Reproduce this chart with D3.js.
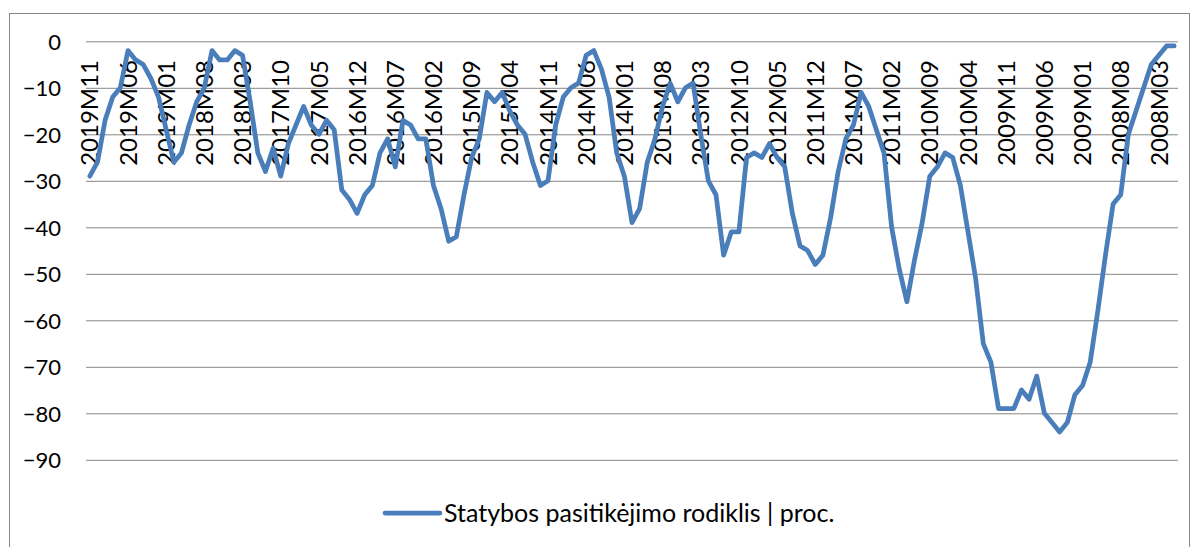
<!DOCTYPE html>
<html>
<head>
<meta charset="utf-8">
<script src="https://cdn.jsdelivr.net/npm/d3@7"></script>
<style>
  body { margin: 0; background: #fff; }
  svg text { font-family: "Lato", "Liberation Sans", sans-serif; fill: #000; }
</style>
</head>
<body>
<div id="chart"></div>
<script>
// months, newest first (2019M11 ... 2008M01)
const startYear = 2019, startMonth = 11, monthCount = 143;
const months = [];
for (let k = 0; k < monthCount; k++) {
  const t = startYear * 12 + (startMonth - 1) - k;
  const y = Math.floor(t / 12), m = t % 12 + 1;
  months.push(y + 'M' + (m < 10 ? '0' + m : m));
}

// Statybos pasitikėjimo rodiklis, proc. (same order as months)
const values = [
  -29, -26, -17, -12, -10, -2, -4, -5, -8, -12,
  -19, -26, -24, -18, -13, -10, -2, -4, -4, -2,
  -3, -13, -24, -28, -23, -29, -22, -18, -14, -18,
  -20, -17, -19, -32, -34, -37, -33, -31, -24, -21,
  -27, -17, -18, -21, -21, -31, -36, -43, -42, -33,
  -25, -21, -11, -13, -11, -15, -18, -20, -26, -31,
  -30, -18, -12, -10, -9, -3, -2, -6, -12, -24,
  -29, -39, -36, -26, -21, -14, -9, -13, -10, -9,
  -20, -30, -33, -46, -41, -41, -25, -24, -25, -22,
  -25, -27, -37, -44, -45, -48, -46, -38, -28, -21,
  -18, -11, -14, -19, -24, -40, -49, -56, -47, -39,
  -29, -27, -24, -25, -31, -41, -51, -65, -69, -79,
  -79, -79, -75, -77, -72, -80, -82, -84, -82, -76,
  -74, -69, -58, -46, -35, -33, -20, -15, -10, -5,
  -3, -1, -1
];

const yTicks = [0, -10, -20, -30, -40, -50, -60, -70, -80, -90];
const labelEvery = 5;
const seriesName = 'Statybos pasitikėjimo rodiklis | proc.';

const width = 1195, height = 547;
const plot = { left: 86, right: 1178, top: 41.3, bottom: 459.8 };

const svg = d3.select('#chart')
  .append('svg')
  .attr('width', width)
  .attr('height', height);

// chart frame (bottom edge falls just outside the picture)
svg.append('rect')
  .attr('x', 9.5).attr('y', 13.5)
  .attr('width', 1180).attr('height', 540)
  .attr('fill', '#fff')
  .attr('stroke', '#868686')
  .attr('stroke-width', 1);

const x = d3.scaleBand()
  .domain(months)
  .range([plot.left, plot.right]);

const y = d3.scaleLinear()
  .domain([-90, 0])
  .range([plot.bottom, plot.top]);

// gridlines + y labels
const yAxis = d3.axisLeft(y)
  .tickValues(yTicks)
  .tickSize(-(plot.right - plot.left))
  .tickPadding(25)
  .tickFormat(d3.format('d'));

const gy = svg.append('g')
  .attr('transform', `translate(${plot.left},0)`)
  .call(yAxis);
gy.select('.domain').remove();
gy.selectAll('.tick line')
  .attr('stroke', '#868686')
  .attr('stroke-width', 1);
gy.selectAll('.tick text')
  .attr('font-size', 22)
  .attr('dy', '0.35em');

// category labels, rotated, hanging below the zero line
svg.append('g')
  .selectAll('text')
  .data(months.filter((d, i) => i % labelEvery === 0))
  .enter()
  .append('text')
  .attr('transform', d => `translate(${x(d) + x.bandwidth() / 2},60) rotate(-90)`)
  .attr('text-anchor', 'end')
  .attr('dy', '0.36em')
  .attr('font-size', 24)
  .text(d => d);

// the series line
const line = d3.line()
  .x((d, i) => x(months[i]) + x.bandwidth() / 2)
  .y(d => y(d));

svg.append('path')
  .datum(values)
  .attr('d', line)
  .attr('fill', 'none')
  .attr('stroke', '#4a7ebb')
  .attr('stroke-width', 4.75)
  .attr('stroke-linejoin', 'round')
  .attr('stroke-linecap', 'round');

// legend
const legend = svg.append('g').attr('transform', 'translate(385,513)');
legend.append('line')
  .attr('x1', 0).attr('x2', 55)
  .attr('stroke', '#4a7ebb')
  .attr('stroke-width', 4.75)
  .attr('stroke-linecap', 'round');
legend.append('text')
  .attr('x', 59)
  .attr('dy', '0.35em')
  .attr('font-size', 25)
  .text(seriesName);
</script>
</body>
</html>
